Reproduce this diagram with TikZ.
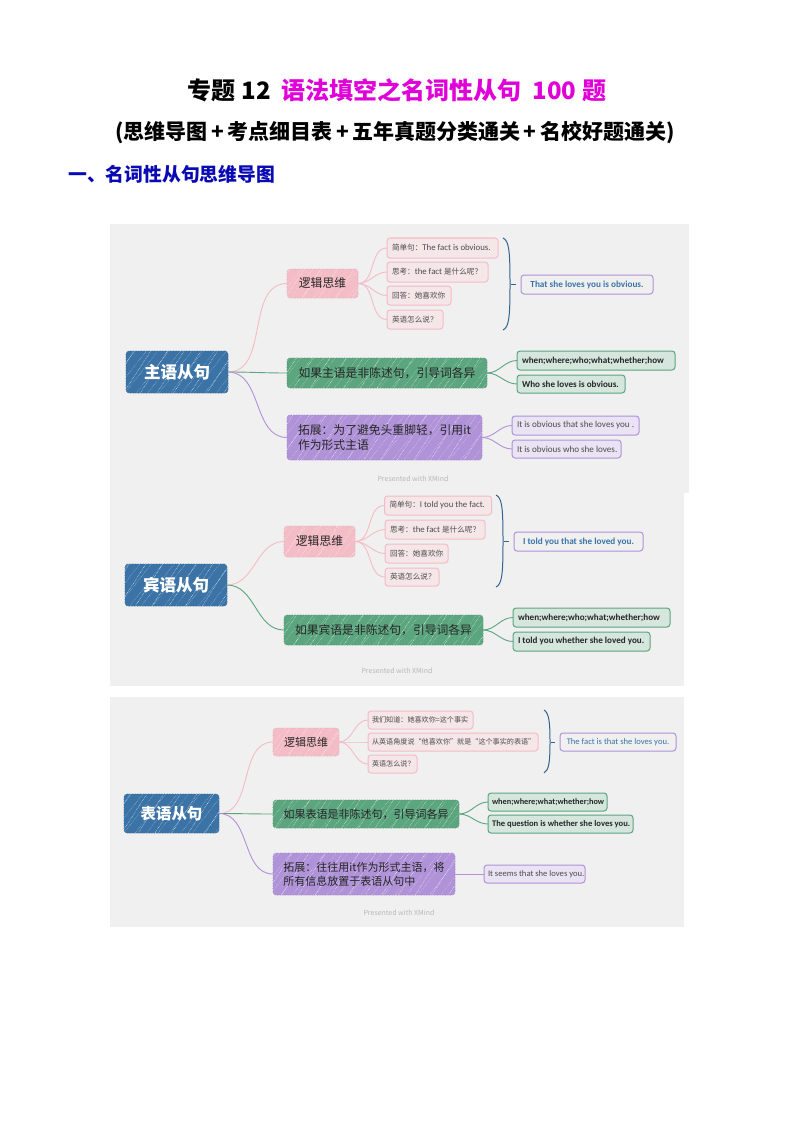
\documentclass[tikz,border=0pt]{standalone}
\usepackage{fontspec}
\setmainfont{Carlito}
\newfontfamily\cjk{Noto Sans CJK SC}
\usetikzlibrary{patterns.meta}
\newcommand{\fsz}[2]{\fontsize{#1}{#2}\selectfont}
\newcommand{\han}[1]{{\cjk\fsz{7.6}{9}#1}}
\newcommand{\colonzh}{^^^^ff1a}
\newcommand{\commazh}{^^^^ff0c}
\newcommand{\askzh}{^^^^ff1f}
\definecolor{panelgray}{HTML}{F0F0F0}
\definecolor{rootblue}{HTML}{3B73A6}
\definecolor{pinkmid}{HTML}{F4BCC6}
\definecolor{greenmid}{HTML}{5BA57F}
\definecolor{purplemid}{HTML}{B092D8}
\definecolor{pinkpale}{HTML}{F5E6E8}
\definecolor{greenpale}{HTML}{D5E6DD}
\definecolor{purplepale}{HTML}{EAE3F3}
\definecolor{magentatitle}{HTML}{E000D8}
\definecolor{navyhead}{HTML}{0A0AB4}
\begin{document}
\begin{tikzpicture}[x=1pt,y=-1pt]
    \tikzset{wh/.style 2 args = {minimum width=#1pt,minimum height=#2pt}}
    \tikzset{lw/.style 2 args = {text width=#1pt-10pt,inner xsep=5pt,minimum height=#2pt}}
    \tikzset{boxbase/.style = {shape=rectangle,rounded corners=3pt,inner sep=0pt,outer sep=0pt}}
    \tikzset{hatched/.style = {fill=#1,draw=#1!92!black,densely dotted,line width=.6pt,
        postaction={pattern={Lines[angle=52,distance=9pt,line width=.3pt]},pattern color=white!65!#1},
        postaction={pattern={Lines[angle=57,distance=14pt,line width=.45pt]},pattern color=white!90!#1}}}
    \tikzset{rootnode/.style = {boxbase,hatched=rootblue,text=white,font=\cjk\bfseries\fsz{16.5}{20}}}
    \tikzset{logicnode/.style = {boxbase,hatched=pinkmid,text=black!85,font=\cjk\fsz{11.8}{15}}}
    \tikzset{greennode/.style = {boxbase,hatched=greenmid,text=black!85,font=\cjk\fsz{11.8}{15}}}
    \tikzset{purplenode/.style = {boxbase,hatched=purplemid,text=black!85,align=left,font=\cjk\fsz{11.8}{15}}}
    \tikzset{smallmid/.style = {font=\cjk\fsz{11}{14}}}
    \tikzset{pinkleaf/.style = {boxbase,align=flush left,fill=pinkpale,draw=pinkmid,line width=1pt,text=black!70,font=\fsz{8.8}{10}}}
    \tikzset{greenleaf/.style = {boxbase,align=flush left,fill=greenpale,draw=greenmid,line width=1pt,text=black!85,font=\bfseries\fsz{9.1}{10}}}
    \tikzset{purpleleaf/.style = {boxbase,align=flush left,fill=purplepale,draw=purplemid,line width=1pt,text=black!70,font=\fsz{9.1}{10}}}
    \tikzset{answer/.style = {boxbase,fill=panelgray,draw=purplemid,line width=1pt,text=rootblue,font=\bfseries\fsz{9.2}{10}}}
    \tikzset{stamp/.style = {text=black!28,font=\cjk\fsz{7}{8}}}
    \tikzset{link/.style = {line width=.9pt,out=0,in=180}}
    \tikzset{bracket/.style = {draw=rootblue!85!black,line width=1pt}}
    \useasboundingbox (0,0) rectangle (794,1123);
    \fill[white] (0,0) rectangle (794,1123);
    % headings
    \node[font=\cjk\bfseries\fsz{24}{28}] (title) at (397,90) {专题 12\ \ \textcolor{magentatitle}{语法填空之名词性从句\ \ 100 题}};
    \node[font=\cjk\bfseries\fsz{21}{25}] (subtitle) at (395,133) {(思维导图\,+\,考点细目表\,+\,五年真题分类通关\,+\,名校好题通关)};
    \node[anchor=west,inner sep=0pt,text=navyhead,font=\cjk\bfseries\fsz{18.8}{22}] (section) at (68,174) {一、名词性从句思维导图};
    % panels
    \fill[panelgray] (110,224) rectangle (689,493);
    \fill[panelgray] (110,483) rectangle (684,686);
    \fill[panelgray] (110,697) rectangle (684,927);
    % first map
    \node[rootnode,wh={102}{42}] (rootA) at (177,372) {主语从句};
    \node[logicnode,wh={71}{29}] (logicA) at (322.5,283.5) {逻辑思维};
    \node[greennode,wh={200}{30}] (greenA) at (387,373) {如果主语是非陈述句\commazh 引导词各异};
    \node[purplenode,wh={195}{45}] (purpleA) at (384.5,437.5) {拓展\colonzh 为了避免头重脚轻\commazh 引用it\\作为形式主语};
    \node[pinkleaf,lw={111}{20}] (leafA1) at (442.5,248) {\mbox{\han{简单句\colonzh}The fact is obvious.}};
    \node[pinkleaf,lw={101}{20}] (leafA2) at (437.5,272) {\mbox{\han{思考\colonzh}the fact \han{是什么呢\askzh}}};
    \node[pinkleaf,lw={64}{19}] (leafA3) at (419,295.5) {\mbox{\han{回答\colonzh 她喜欢你}}};
    \node[pinkleaf,lw={56}{19}] (leafA4) at (415,319.5) {\mbox{\han{英语怎么说\askzh}}};
    \node[answer,wh={132}{19}] (answerA) at (587,284.5) {That she loves you is obvious.};
    \node[greenleaf,lw={158}{19}] (wordsA) at (596,360.5) {\mbox{when;where;who;what;whether;how}};
    \node[greenleaf,lw={108}{18}] (whoA) at (571,384) {\mbox{Who she loves is obvious.}};
    \node[purpleleaf,lw={127}{19}] (itA1) at (575.5,425.5) {\mbox{It is obvious that she loves you .}};
    \node[purpleleaf,lw={109}{18}] (itA2) at (566.5,449) {\mbox{It is obvious who she loves.}};
    \node[stamp] (stampA) at (413,479) {Presented with XMind};
    \draw[link,pinkmid] (rootA.east) to (logicA.west);
    \draw[link,greenmid] (rootA.east) to (greenA.west);
    \draw[link,purplemid] (rootA.east) to (purpleA.west);
    \draw[link,pinkmid] (logicA.east) to (leafA1.west);
    \draw[link,pinkmid] (logicA.east) to (leafA2.west);
    \draw[link,pinkmid] (logicA.east) to (leafA3.west);
    \draw[link,pinkmid] (logicA.east) to (leafA4.west);
    \draw[link,greenmid] (greenA.east) to (wordsA.west);
    \draw[link,greenmid] (greenA.east) to (whoA.west);
    \draw[link,purplemid] (purpleA.east) to (itA1.west);
    \draw[link,purplemid] (purpleA.east) to (itA2.west);
    \coordinate (topA) at (503,238);
    \coordinate (botA) at (503,330);
    \coordinate (tickA) at (511,284.5);
    \draw[bracket] (topA) .. controls (509,241) and (510,250) .. (510,284) .. controls (510,318) and (509,327) .. (botA);
    \draw[bracket,shorten >=5pt] (tickA) -- (answerA.west);
    % second map
    \node[rootnode,wh={102}{42}] (rootB) at (176,585) {宾语从句};
    \node[logicnode,wh={71}{31}] (logicB) at (319.5,541.5) {逻辑思维};
    \node[greennode,wh={199}{30}] (greenB) at (383.5,630) {如果宾语是非陈述句\commazh 引导词各异};
    \node[pinkleaf,lw={107}{19}] (leafB1) at (438,505.5) {\mbox{\han{简单句\colonzh}I told you the fact.}};
    \node[pinkleaf,lw={100}{19}] (leafB2) at (435,529.5) {\mbox{\han{思考\colonzh}the fact \han{是什么呢\askzh}}};
    \node[pinkleaf,lw={63}{19}] (leafB3) at (416.5,553.5) {\mbox{\han{回答\colonzh 她喜欢你}}};
    \node[pinkleaf,lw={54}{18}] (leafB4) at (412,577) {\mbox{\han{英语怎么说\askzh}}};
    \node[answer,wh={129}{19}] (answerB) at (578.5,541.5) {I told you that she loved you.};
    \node[greenleaf,lw={157}{19}] (wordsB) at (591.5,617.5) {\mbox{when;where;who;what;whether;how}};
    \node[greenleaf,lw={137}{19}] (whoB) at (581.5,641.5) {\mbox{I told you whether she loved you.}};
    \node[stamp] (stampB) at (397,671) {Presented with XMind};
    \draw[link,pinkmid] (rootB.east) to (logicB.west);
    \draw[link,greenmid] (rootB.east) to (greenB.west);
    \draw[link,pinkmid] (logicB.east) to (leafB1.west);
    \draw[link,pinkmid] (logicB.east) to (leafB2.west);
    \draw[link,pinkmid] (logicB.east) to (leafB3.west);
    \draw[link,pinkmid] (logicB.east) to (leafB4.west);
    \draw[link,greenmid] (greenB.east) to (wordsB.west);
    \draw[link,greenmid] (greenB.east) to (whoB.west);
    \coordinate (topB) at (496,495);
    \coordinate (botB) at (496,587);
    \coordinate (tickB) at (504,541.5);
    \draw[bracket] (topB) .. controls (502,498) and (503,507) .. (503,541) .. controls (503,575) and (502,584) .. (botB);
    \draw[bracket,shorten >=5pt] (tickB) -- (answerB.west);
    % third map
    \node[rootnode,wh={95}{39},font=\cjk\bfseries\fsz{15.4}{19}] (rootC) at (171.5,813.5) {表语从句};
    \node[logicnode,wh={66}{28},smallmid] (logicC) at (306,742) {逻辑思维};
    \node[greennode,wh={186}{28},smallmid] (greenC) at (366,814) {如果表语是非陈述句\commazh 引导词各异};
    \node[purplenode,wh={182}{42},smallmid] (purpleC) at (364,874) {拓展\colonzh 往往用it作为形式主语\commazh 将\\所有信息放置于表语从句中};
    \node[pinkleaf,lw={107}{18},inner xsep=4pt] (leafC1) at (420.5,720) {\mbox{\cjk\fsz{7.1}{9}我们知道\colonzh 她喜欢你=这个事实}};
    \node[pinkleaf,lw={172}{18},inner xsep=4pt] (leafC2) at (453,742) {\mbox{\cjk\fsz{7.1}{9}从英语角度说“他喜欢你”就是“这个事实的表语”}};
    \node[pinkleaf,lw={51}{18},inner xsep=4pt] (leafC3) at (392.5,764) {\mbox{\cjk\fsz{7.1}{9}英语怎么说\askzh}};
    \node[answer,wh={116}{18},font=\fsz{8.6}{10}] (answerC) at (618,742) {The fact is that she loves you.};
    \node[greenleaf,lw={121}{18},inner xsep=4pt,font=\bfseries\fsz{8.3}{10}] (wordsC) at (547.5,802) {\mbox{when;where;what;whether;how}};
    \node[greenleaf,lw={147}{18},inner xsep=4pt,font=\bfseries\fsz{8.6}{10}] (whoC) at (560.5,824) {\mbox{The question is whether she loves you.}};
    \node[purpleleaf,lw={103}{18},inner xsep=4pt,font=\fsz{8.6}{10}] (itC) at (534.5,874) {\mbox{It seems that she loves you.}};
    \node[stamp] (stampC) at (399,913) {Presented with XMind};
    \draw[link,pinkmid] (rootC.east) to (logicC.west);
    \draw[link,greenmid] (rootC.east) to (greenC.west);
    \draw[link,purplemid] (rootC.east) to (purpleC.west);
    \draw[link,pinkmid] (logicC.east) to (leafC1.west);
    \draw[link,pinkmid] (logicC.east) to (leafC2.west);
    \draw[link,pinkmid] (logicC.east) to (leafC3.west);
    \draw[link,greenmid] (greenC.east) to (wordsC.west);
    \draw[link,greenmid] (greenC.east) to (whoC.west);
    \draw[link,purplemid] (purpleC.east) to (itC.west);
    \coordinate (topC) at (544,710);
    \coordinate (botC) at (544,773);
    \coordinate (tickC) at (551,742);
    \draw[bracket] (topC) .. controls (549,713) and (550,722) .. (550,742) .. controls (550,762) and (549,770) .. (botC);
    \draw[bracket,shorten >=5pt] (tickC) -- (answerC.west);
\end{tikzpicture}
\end{document}
